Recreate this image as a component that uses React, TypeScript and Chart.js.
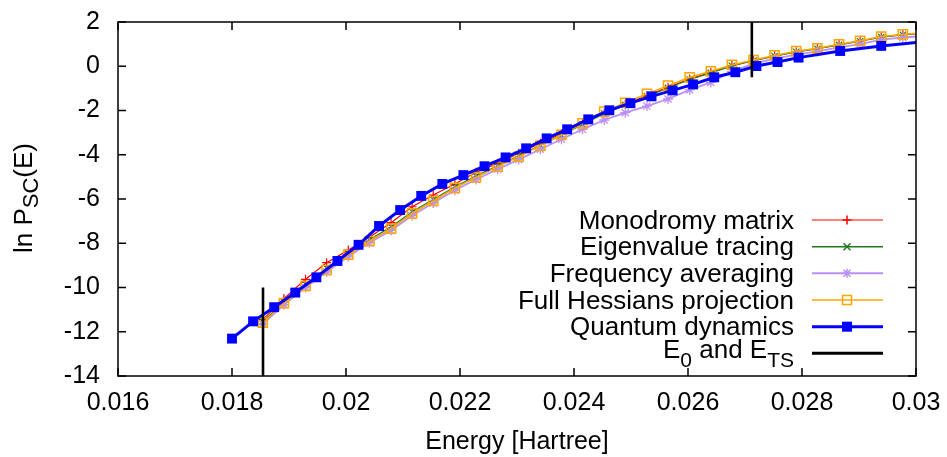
import React, { useEffect, useRef } from 'react';
import { Chart, registerables } from 'chart.js';

Chart.register(...registerables);

const FONT = 'Liberation Sans, Arial, Helvetica, sans-serif';

const X_TICKS = [0.016, 0.018, 0.02, 0.022, 0.024, 0.026, 0.028, 0.03];
const Y_TICKS = [2, 0, -2, -4, -6, -8, -10, -12, -14];

// semiclassical energies (Hartree)
const SC_ENERGY = [0.01854, 0.01891, 0.01929, 0.01966, 0.02004, 0.02041, 0.02079, 0.02116, 0.02153, 0.02191, 0.02228, 0.02266, 0.02303, 0.02341, 0.02378, 0.02415, 0.02453, 0.0249, 0.02528, 0.02565, 0.02603, 0.0264, 0.02677, 0.02715, 0.02752, 0.0279, 0.02827, 0.02865, 0.02902, 0.02939, 0.02977, 0.03014];
const MONODROMY = [-11.45, -10.5, -9.63, -8.88, -8.31, -7.73, -7.07, -6.35, -5.82, -5.32, -4.79, -4.39, -3.93, -3.48, -3.05, -2.6, -2.12, -1.72, -1.33, -0.95, -0.58, -0.28, 0.03, 0.26, 0.47, 0.66, 0.8, 0.98, 1.14, 1.33, 1.43, 1.51];
const EIGENVALUE = [-11.55, -10.65, -9.85, -9.12, -8.45, -7.84, -7.26, -6.58, -6.02, -5.45, -4.96, -4.5, -4.05, -3.57, -3.12, -2.63, -2.14, -1.75, -1.36, -0.98, -0.6, -0.3, 0.02, 0.25, 0.46, 0.65, 0.79, 0.97, 1.13, 1.32, 1.42, 1.5];
const FREQ_AVG = [-11.65, -10.78, -10.0, -9.3, -8.6, -7.98, -7.42, -6.75, -6.18, -5.6, -5.12, -4.65, -4.22, -3.75, -3.3, -2.85, -2.43, -2.1, -1.8, -1.48, -1.07, -0.73, -0.24, 0.12, 0.34, 0.53, 0.67, 0.85, 1.0, 1.2, 1.3, 1.37];
const FULL_HESS = [-11.59, -10.71, -9.93, -9.21, -8.52, -7.9, -7.34, -6.65, -6.09, -5.5, -5.02, -4.54, -4.09, -3.59, -3.1, -2.58, -2.05, -1.65, -1.25, -0.88, -0.5, -0.23, 0.06, 0.28, 0.49, 0.68, 0.81, 0.99, 1.15, 1.34, 1.44, 1.52];

// quantum dynamics
const QD_ENERGY = [0.018, 0.01837, 0.01874, 0.01911, 0.01948, 0.01985, 0.02022, 0.02058, 0.02095, 0.02132, 0.02169, 0.02206, 0.02243, 0.0228, 0.02316, 0.02352, 0.02388, 0.02425, 0.02462, 0.02499, 0.02536, 0.02573, 0.02609, 0.02646, 0.02683, 0.0272, 0.02757, 0.02794, 0.02867, 0.02939, 0.03013];
const QD = [-12.31, -11.53, -10.89, -10.23, -9.54, -8.8, -8.07, -7.22, -6.5, -5.86, -5.32, -4.92, -4.52, -4.12, -3.71, -3.26, -2.85, -2.4, -1.99, -1.67, -1.36, -1.09, -0.82, -0.5, -0.27, 0.01, 0.19, 0.39, 0.69, 0.92, 1.1];

// E0 and E_TS markers
const E0 = 0.018544;
const ETS = 0.02712;
const E0_LINE = [-14, -10];
const ETS_LINE = [2, -0.5];

const COLORS = {
  red: '#ff0000',
  green: '#1d7a1d',
  purple: '#bb90f4',
  orange: '#ffa500',
  blue: '#0000ff',
  black: '#000000',
};

const pts = (xs: number[], ys: number[]) => ys.map((y, i) => ({ x: xs[i], y }));

type Seg = { t: string; sub?: boolean };

const drawSegs = (ctx: CanvasRenderingContext2D, segs: Seg[], x: number, y: number, size: number, subSize: number, subOff: number, align: 'left' | 'right') => {
  const widths = segs.map((s) => {
    ctx.font = `${s.sub ? subSize : size}px ${FONT}`;
    return ctx.measureText(s.t).width;
  });
  const total = widths.reduce((a, b) => a + b, 0);
  let cx = align === 'right' ? x - total : x;
  ctx.textAlign = 'left';
  ctx.textBaseline = 'alphabetic';
  segs.forEach((s, i) => {
    ctx.font = `${s.sub ? subSize : size}px ${FONT}`;
    ctx.fillText(s.t, cx, y + (s.sub ? subOff : 0));
    cx += widths[i];
  });
};

const framePlugin = {
  id: 'gnuFrame',
  afterDatasetsDraw(chart: any) {
    const { ctx, chartArea, scales } = chart;
    const { left, right, top, bottom } = chartArea;
    ctx.save();
    ctx.strokeStyle = '#000';
    ctx.lineWidth = 1.5;
    ctx.beginPath();
    X_TICKS.forEach((v) => {
      const px = scales.x.getPixelForValue(v);
      ctx.moveTo(px, bottom);
      ctx.lineTo(px, bottom - 8);
      ctx.moveTo(px, top);
      ctx.lineTo(px, top + 8);
    });
    Y_TICKS.forEach((v) => {
      const py = scales.y.getPixelForValue(v);
      ctx.moveTo(left, py);
      ctx.lineTo(left + 8, py);
      ctx.moveTo(right, py);
      ctx.lineTo(right - 8, py);
    });
    ctx.stroke();
    ctx.strokeRect(left, top, right - left, bottom - top);
    ctx.restore();
  },
  afterDraw(chart: any) {
    const { ctx } = chart;
    ctx.save();
    ctx.fillStyle = '#000';
    // y axis title, rotated
    ctx.translate(31.5, 253);
    ctx.rotate(-Math.PI / 2);
    drawSegs(ctx, [{ t: 'ln P' }, { t: 'SC', sub: true }, { t: '(E)' }], 0, 0, 26, 22, 6, 'left');
    ctx.restore();

    // legend
    const rows = [
      { segs: [{ t: 'Monodromy matrix' }], color: COLORS.red, lw: 1.2, marker: 'plus' },
      { segs: [{ t: 'Eigenvalue tracing' }], color: COLORS.green, lw: 1.5, marker: 'x' },
      { segs: [{ t: 'Frequency averaging' }], color: COLORS.purple, lw: 2, marker: 'star' },
      { segs: [{ t: 'Full Hessians projection' }], color: COLORS.orange, lw: 1.5, marker: 'open' },
      { segs: [{ t: 'Quantum dynamics' }], color: COLORS.blue, lw: 3, marker: 'filled' },
      { segs: [{ t: 'E' }, { t: '0', sub: true }, { t: ' and E' }, { t: 'TS', sub: true }], color: COLORS.black, lw: 3, marker: 'none' },
    ];
    const textRight = 794;
    const x1 = 812;
    const x2 = 883;
    const mx = 847;
    rows.forEach((r, i) => {
      const ly = 220 + i * 26.67;
      ctx.save();
      ctx.fillStyle = '#000';
      const base = i === 5 ? ly + 5 : ly + 8.5;
      drawSegs(ctx, r.segs as Seg[], textRight, base, 26, 21, 8.5, 'right');
      ctx.strokeStyle = r.color;
      ctx.lineWidth = r.lw;
      ctx.beginPath();
      ctx.moveTo(x1, ly);
      ctx.lineTo(x2, ly);
      ctx.stroke();
      ctx.lineWidth = 1.5;
      ctx.beginPath();
      if (r.marker === 'plus' || r.marker === 'star') {
        ctx.moveTo(mx - 4.5, ly);
        ctx.lineTo(mx + 4.5, ly);
        ctx.moveTo(mx, ly - 4.5);
        ctx.lineTo(mx, ly + 4.5);
      }
      if (r.marker === 'x' || r.marker === 'star') {
        ctx.moveTo(mx - 3.5, ly - 3.5);
        ctx.lineTo(mx + 3.5, ly + 3.5);
        ctx.moveTo(mx - 3.5, ly + 3.5);
        ctx.lineTo(mx + 3.5, ly - 3.5);
      }
      ctx.stroke();
      if (r.marker === 'open') {
        ctx.strokeRect(mx - 4.5, ly - 4.5, 9, 9);
      }
      if (r.marker === 'filled') {
        ctx.fillStyle = r.color;
        ctx.fillRect(mx - 5, ly - 5, 10, 10);
      }
      ctx.restore();
    });
  },
};

export default function App() {
  const ref = useRef<HTMLCanvasElement | null>(null);

  useEffect(() => {
    document.body.style.margin = '0';
    const canvas = ref.current;
    if (!canvas) return;
    const chart = new Chart(canvas, {
      type: 'scatter',
      data: {
        datasets: [
          {
            label: 'Monodromy matrix',
            data: pts(SC_ENERGY, MONODROMY),
            showLine: true,
            borderColor: COLORS.red,
            backgroundColor: COLORS.red,
            borderWidth: 1.2,
            pointStyle: 'cross',
            pointRadius: 4.5,
            pointBorderWidth: 1.2,
            order: 6,
          },
          {
            label: 'Eigenvalue tracing',
            data: pts(SC_ENERGY, EIGENVALUE),
            showLine: true,
            borderColor: COLORS.green,
            backgroundColor: COLORS.green,
            borderWidth: 1.2,
            pointStyle: 'crossRot',
            pointRadius: 4.5,
            pointBorderWidth: 1.2,
            order: 5,
          },
          {
            label: 'Frequency averaging',
            data: pts(SC_ENERGY, FREQ_AVG),
            showLine: true,
            borderColor: COLORS.purple,
            backgroundColor: COLORS.purple,
            borderWidth: 1.8,
            pointStyle: 'star',
            pointRadius: 5,
            pointBorderWidth: 1.3,
            order: 4,
          },
          {
            label: 'Full Hessians projection',
            data: pts(SC_ENERGY, FULL_HESS),
            showLine: true,
            borderColor: COLORS.orange,
            backgroundColor: 'rgba(0,0,0,0)',
            borderWidth: 1.5,
            pointStyle: 'rect',
            pointRadius: 6.5,
            pointBorderWidth: 1.5,
            order: 3,
          },
          {
            label: 'Quantum dynamics',
            data: pts(QD_ENERGY, QD),
            showLine: true,
            borderColor: COLORS.blue,
            backgroundColor: COLORS.blue,
            borderWidth: 3,
            pointStyle: 'rect',
            pointRadius: 7,
            pointBorderWidth: 0,
            order: 2,
          },
          {
            label: 'E0',
            data: E0_LINE.map((y) => ({ x: E0, y })),
            showLine: true,
            borderColor: COLORS.black,
            borderWidth: 2.6,
            pointRadius: 0,
            order: 1,
          },
          {
            label: 'ETS',
            data: ETS_LINE.map((y) => ({ x: ETS, y })),
            showLine: true,
            borderColor: COLORS.black,
            borderWidth: 2.6,
            pointRadius: 0,
            order: 1,
          },
        ],
      },
      options: {
        animation: false,
        responsive: false,
        devicePixelRatio: 1,
        layout: { padding: { top: 22, right: 31, left: 0, bottom: 0 } },
        plugins: {
          legend: { display: false },
          tooltip: { enabled: false },
        },
        scales: {
          x: {
            type: 'linear',
            position: 'bottom',
            min: 0.016,
            max: 0.03,
            afterBuildTicks: (s: any) => {
              s.ticks = X_TICKS.map((v) => ({ value: v }));
            },
            afterFit: (s: any) => {
              s.height = 81;
              s.paddingLeft = 0;
              s.paddingRight = 0;
            },
            ticks: {
              padding: 12,
              color: '#000',
              font: { family: FONT, size: 25 },
              maxRotation: 0,
              autoSkip: false,
              callback: (v: any) => String(+Number(v).toPrecision(6)),
            },
            grid: { display: false, drawTicks: false },
            border: { display: false },
            title: {
              display: true,
              text: 'Energy [Hartree]',
              color: '#000',
              font: { family: FONT, size: 25 },
              padding: { top: 0, bottom: 0 },
            },
          },
          y: {
            type: 'linear',
            position: 'left',
            min: -14,
            max: 2,
            afterBuildTicks: (s: any) => {
              s.ticks = Y_TICKS.map((v) => ({ value: v }));
            },
            afterFit: (s: any) => {
              s.width = 118;
              s.paddingTop = 0;
              s.paddingBottom = 0;
            },
            ticks: {
              padding: 18,
              color: '#000',
              font: { family: FONT, size: 25 },
              autoSkip: false,
              callback: (v: any) => String(v),
            },
            grid: { display: false, drawTicks: false },
            border: { display: false },
          },
        },
      },
      plugins: [framePlugin],
    } as any);
    return () => chart.destroy();
  }, []);

  return (
    <div style={{ width: 947, height: 457 }}>
      <canvas ref={ref} width={947} height={457} style={{ display: 'block' }} />
    </div>
  );
}
